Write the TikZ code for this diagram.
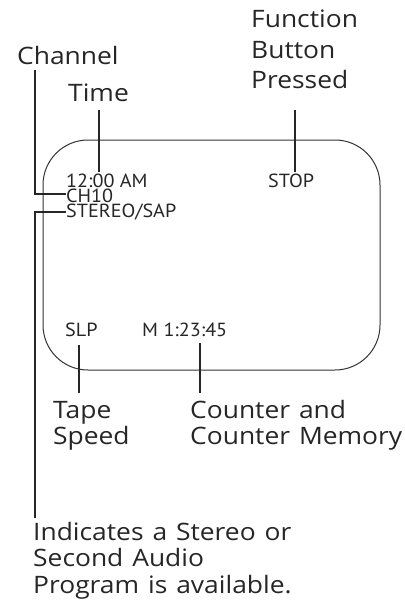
\documentclass[tikz,border=0pt]{standalone}
\usepackage{fontspec}
\setmainfont[FakeStretch=1.1,WordSpace=1.3]{Open Sans}
\newfontfamily\smallfnt[FakeStretch=1.06]{PT Sans}
\begin{document}
\begin{tikzpicture}[x=1pt,y=-1pt,
  lbl/.style={anchor=base west,inner sep=0pt,align=left,font=\fontsize{24}{26.5}\selectfont,text=black!85},
  disp/.style={anchor=base west,inner sep=0pt,font=\smallfnt\fontsize{19}{15}\selectfont,text=black!85},
  lead/.style={line width=2.8pt,black!85},
  frame/.style={line width=1pt,black!80,rounded corners=45pt}]
\useasboundingbox (0,0) rectangle (404,607);
\draw[frame] (43,140) rectangle (380,370);
% display texts
\node[disp] (time) at (66,187) {12:00 AM};
\node[disp] (stop) at (268,187) {STOP};
\node[disp] (ch) at (66,202) {CH10};
\node[disp] (st) at (66,217) {STEREO/SAP};
\node[disp] (slp) at (65,336) {SLP};
\node[disp] (cnt) at (142,336) {M 1:23:45};
% labels
\node[lbl] (lch) at (17,65) {Channel};
\node[lbl] (ltime) at (68,102) {Time};
\node[lbl,font=\fontsize{24}{30.5}\selectfont] (lfn) at (251,89) {Function\\Button\\Pressed};
\node[lbl,font=\fontsize{24}{26}\selectfont] (ltape) at (53,444) {Tape\\Speed};
\node[lbl,font=\fontsize{24}{26}\selectfont] (lcnt) at (190,444) {Counter and\\Counter Memory};
\node[lbl] (lind) at (33,593) {Indicates a Stereo or\\Second Audio\\Program is available.};
% leaders
\coordinate (c1) at (35,70);
\coordinate (c2) at (35,194);
\draw[lead] (c1) -- (c2) -- (ch.west |- c2);
\coordinate (s1) at (35,212);
\coordinate (s2) at (35,518);
\draw[lead] (s2) -- (s1) -- (st.west |- s1);
\draw[lead] (99,110) -- (99,172);
\draw[lead] (295,110) -- (295,172);
\draw[lead] (79,345) -- (79,393);
\draw[lead] (200,343) -- (200,393);
\end{tikzpicture}
\end{document}
